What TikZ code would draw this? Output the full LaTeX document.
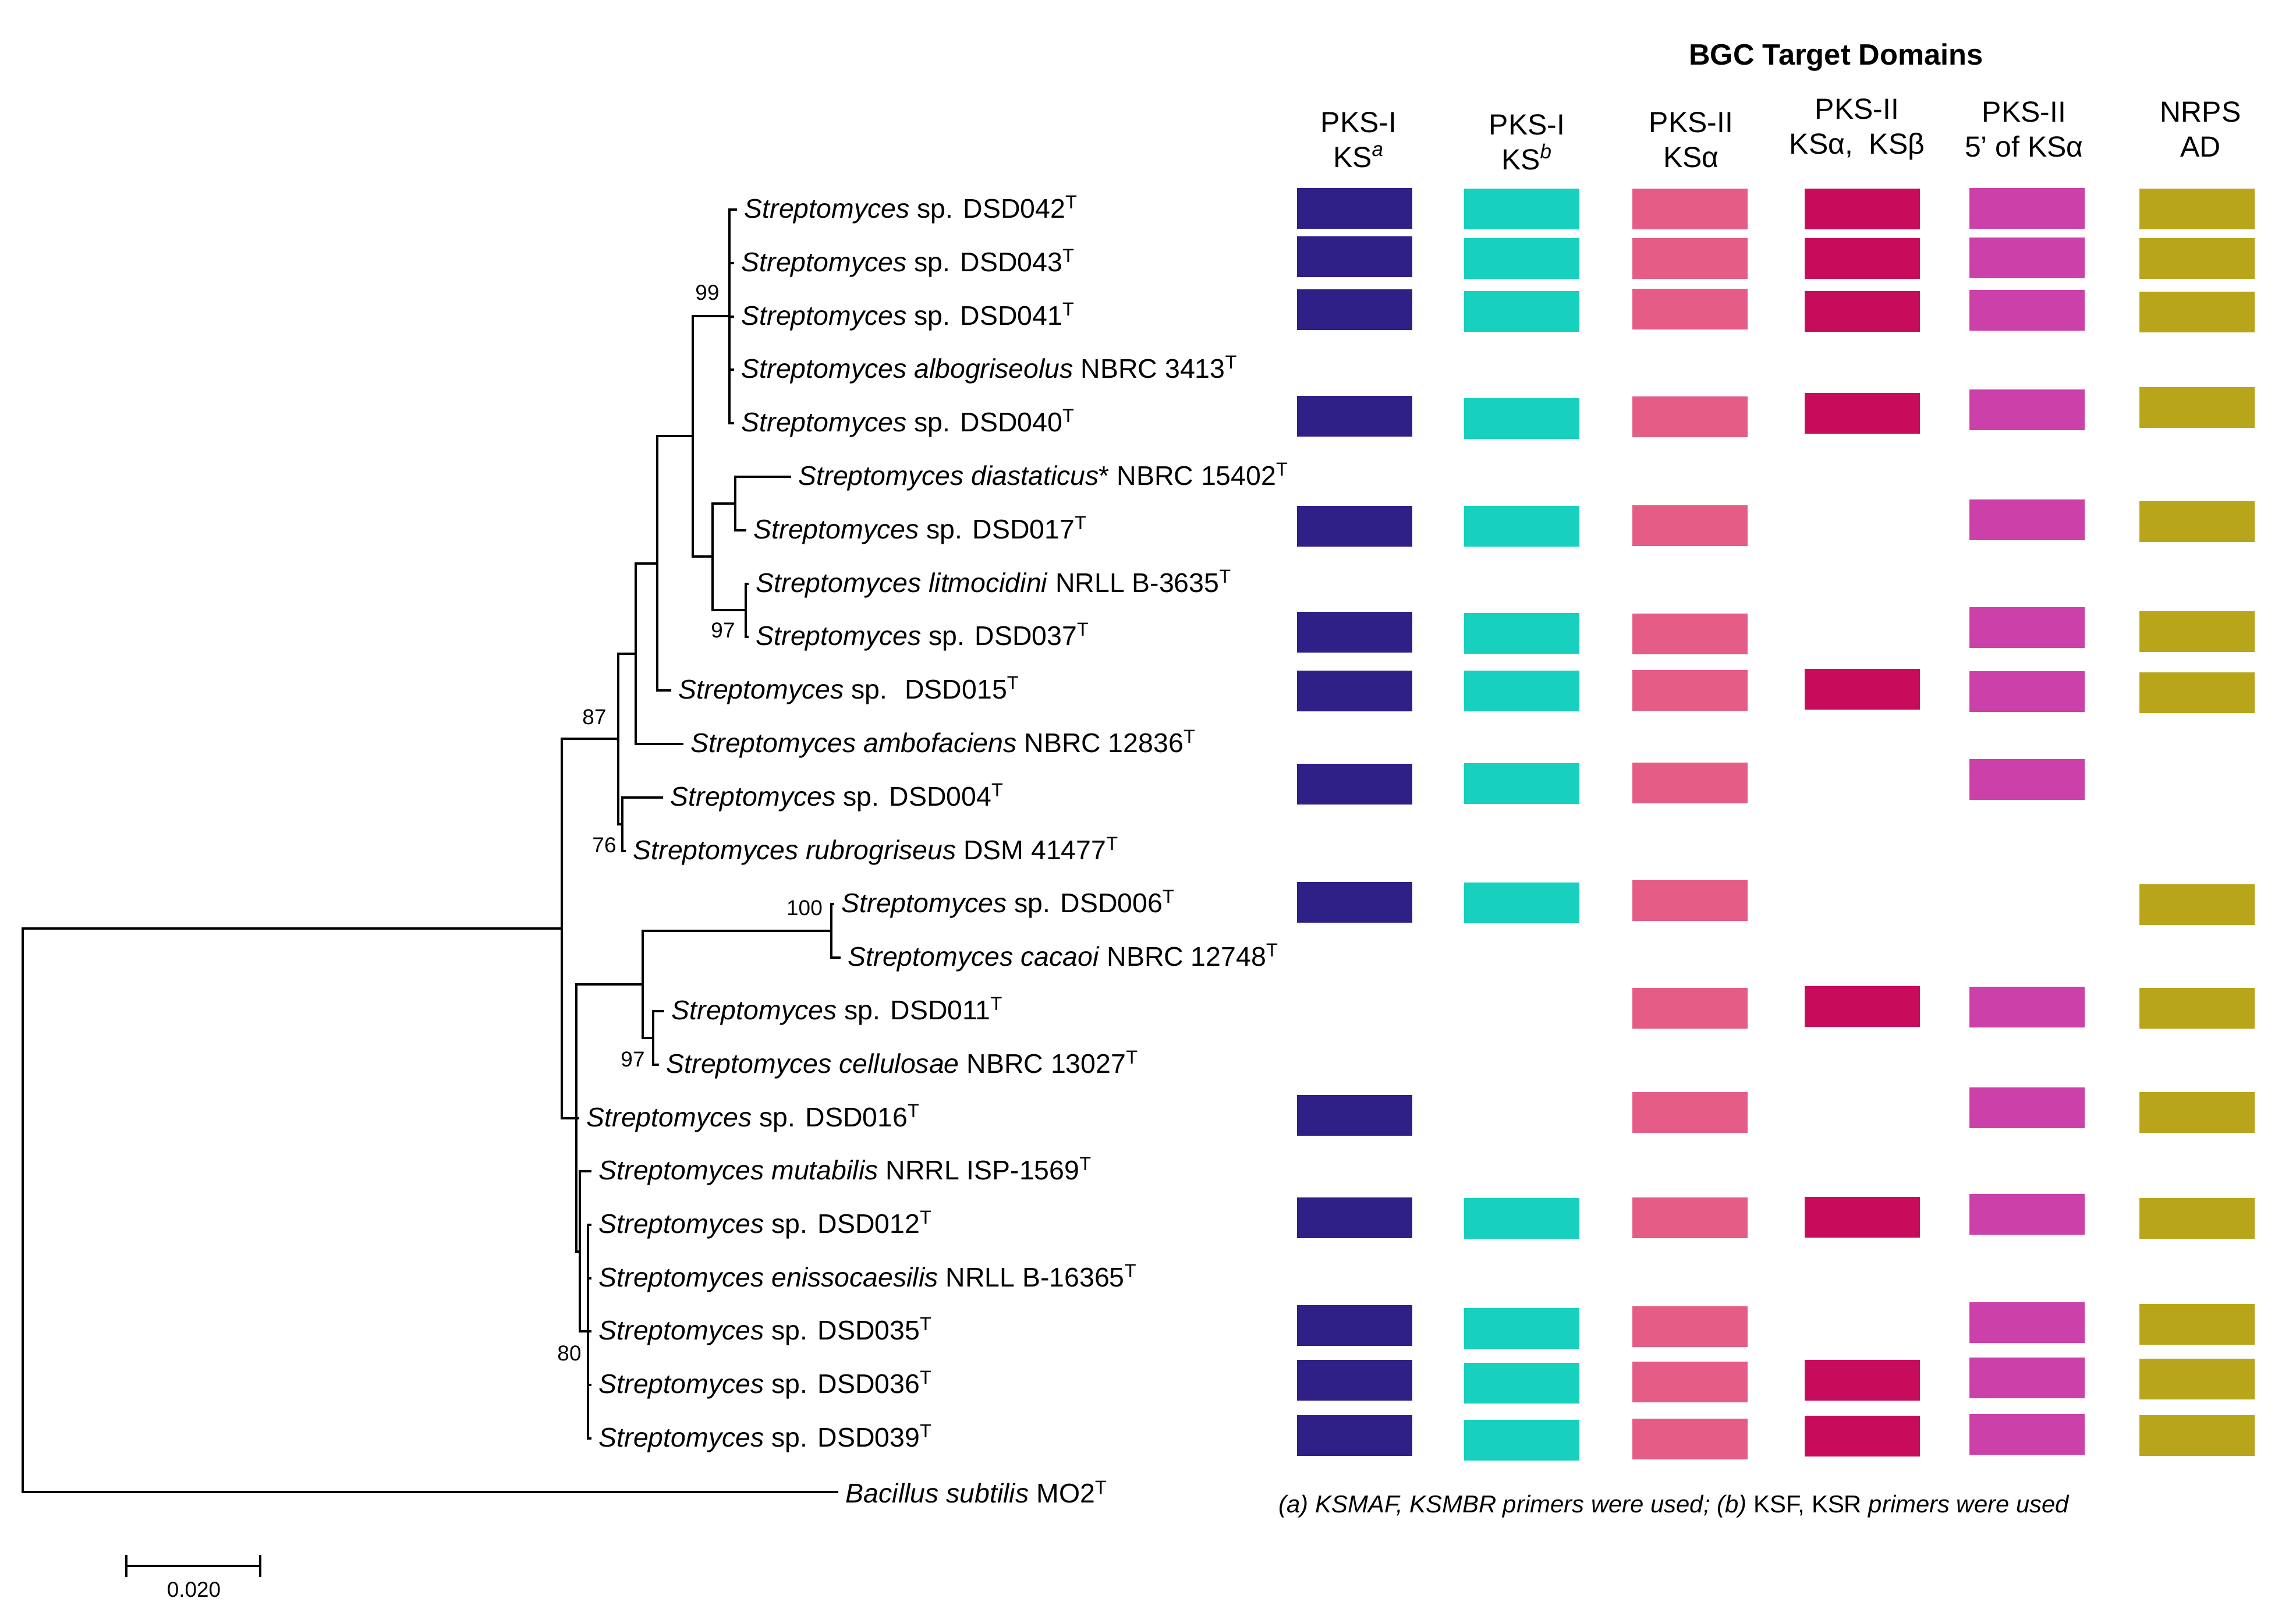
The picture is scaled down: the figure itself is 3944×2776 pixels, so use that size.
\documentclass[tikz,border=0pt]{standalone}
\usepackage{fontspec}
\setmainfont{Liberation Sans}
\usetikzlibrary{arrows.meta}
\definecolor{ksaBlue}{RGB}{46,32,135}
\definecolor{ksbTeal}{RGB}{23,208,190}
\definecolor{ksAlphaPink}{RGB}{229,92,134}
\definecolor{ksBetaRed}{RGB}{200,12,92}
\definecolor{fiveMagenta}{RGB}{204,64,170}
\definecolor{nrpsOlive}{RGB}{185,165,26}
\newcommand{\strep}{\textit{Streptomyces}}
\newcommand{\tstrain}{\textsuperscript{T}}

\begin{document}
\begin{tikzpicture}
      [x=0.01cm, y=-0.01cm,
       branch/.style={line width=1pt, line cap=rect},
       taxon/.style={anchor=west, inner xsep=4pt, inner ysep=0pt, font=\fontsize{13.2}{15}\selectfont},
       boot/.style={inner sep=0pt, font=\fontsize{10.5}{12}\selectfont},
       head/.style={align=center, font=\fontsize{14.2}{17}\selectfont},
       cellbox/.style={minimum width=1.98cm, minimum height=0.7cm, inner sep=0pt}]
      \useasboundingbox (0,0) rectangle (3944,2776);

      % taxa
      \node [taxon] (t42) at (1264,360) {\strep{} sp. DSD042\tstrain};
      \node [taxon] (t43) at (1259,452) {\strep{} sp. DSD043\tstrain};
      \node [taxon] (t41) at (1259,544) {\strep{} sp. DSD041\tstrain};
      \node [taxon] (talb) at (1259,635) {\textit{Streptomyces albogriseolus} NBRC 3413\tstrain};
      \node [taxon] (t40) at (1259,727) {\strep{} sp. DSD040\tstrain};
      \node [taxon] (tdia) at (1357,819) {\textit{Streptomyces diastaticus}* NBRC 15402\tstrain};
      \node [taxon] (t17) at (1280,911) {\strep{} sp. DSD017\tstrain};
      \node [taxon] (tlit) at (1284,1003) {\textit{Streptomyces litmocidini} NRLL B-3635\tstrain};
      \node [taxon] (t37) at (1284,1094) {\strep{} sp. DSD037\tstrain};
      \node [taxon] (t15) at (1151,1186) {\strep{} sp.~ DSD015\tstrain};
      \node [taxon] (tamb) at (1172,1278) {\textit{Streptomyces ambofaciens} NBRC 12836\tstrain};
      \node [taxon] (t04) at (1137,1370) {\strep{} sp. DSD004\tstrain};
      \node [taxon] (trub) at (1073,1462) {\textit{Streptomyces rubrogriseus} DSM 41477\tstrain};
      \node [taxon] (t06) at (1431,1553) {\strep{} sp. DSD006\tstrain};
      \node [taxon] (tcac) at (1442,1645) {\textit{Streptomyces cacaoi} NBRC 12748\tstrain};
      \node [taxon] (t11) at (1139,1737) {\strep{} sp. DSD011\tstrain};
      \node [taxon] (tcel) at (1130,1829) {\textit{Streptomyces cellulosae} NBRC 13027\tstrain};
      \node [taxon] (t16) at (993,1921) {\strep{} sp. DSD016\tstrain};
      \node [taxon] (tmut) at (1014,2012) {\textit{Streptomyces mutabilis} NRRL ISP-1569\tstrain};
      \node [taxon] (t12) at (1014,2104) {\strep{} sp. DSD012\tstrain};
      \node [taxon] (tenis) at (1014,2196) {\textit{Streptomyces enissocaesilis} NRLL B-16365\tstrain};
      \node [taxon] (t35) at (1014,2287) {\strep{} sp. DSD035\tstrain};
      \node [taxon] (t36) at (1014,2379) {\strep{} sp. DSD036\tstrain};
      \node [taxon] (t39) at (1014,2471) {\strep{} sp. DSD039\tstrain};
      \node [taxon] (tbac) at (1438,2563) {\textit{Bacillus subtilis} MO2\tstrain};

      % inner nodes of the tree
      \coordinate (n99) at (1253,543);
      \coordinate (nA) at (1190,749);
      \coordinate (nB) at (1224,956);
      \coordinate (nC) at (1263,865);
      \coordinate (nD) at (1281,1048);
      \coordinate (nE) at (1129,968);
      \coordinate (nF) at (1092,1123);
      \coordinate (nG) at (1069,1416);
      \coordinate (nH) at (1062,1269);
      \coordinate (nI) at (1428,1599);
      \coordinate (nJ) at (1122,1783);
      \coordinate (nK) at (1104,1691);
      \coordinate (n80) at (1010,2287);
      \coordinate (nL) at (996,2150);
      \coordinate (nM) at (990,1921);
      \coordinate (nN) at (965,1595);
      \coordinate (root) at (39,2079);

      \foreach \t in {t42,t43,t41,talb,t40}
        \draw [branch] (n99) |- (\t.west);
      \foreach \t in {t12,tenis,t35,t36,t39}
        \draw [branch] (n80) |- (\t.west);
      \draw [branch] (nA) |- (n99) (nA) |- (nB);
      \draw [branch] (nB) |- (nC) (nB) |- (nD);
      \draw [branch] (nC) |- (tdia.west) (nC) |- (t17.west);
      \draw [branch] (nD) |- (tlit.west) (nD) |- (t37.west);
      \draw [branch] (nE) |- (nA) (nE) |- (t15.west);
      \draw [branch] (nF) |- (nE) (nF) |- (tamb.west);
      \draw [branch] (nG) |- (t04.west) (nG) |- (trub.west);
      \draw [branch] (nH) |- (nF) (nH) |- (nG);
      \draw [branch] (nI) |- (t06.west) (nI) |- (tcac.west);
      \draw [branch] (nJ) |- (t11.west) (nJ) |- (tcel.west);
      \draw [branch] (nK) |- (nI) (nK) |- (nJ);
      \draw [branch] (nL) |- (tmut.west) (nL) |- (n80);
      \draw [branch] (nM) |- (nK) (nM) |- (t16.west) (nM) |- (nL);
      \draw [branch] (nN) |- (nH) (nN) |- (nM);
      \draw [branch] (root) |- (nN) (root) |- (tbac.west);

      % bootstrap values
      \node [boot] (b99) at (1215,503) {99};
      \node [boot] (b97a) at (1242,1083) {97};
      \node [boot] (b87) at (1021,1232) {87};
      \node [boot] (b76) at (1038,1452) {76};
      \node [boot] (b100) at (1382,1560) {100};
      \node [boot] (b97b) at (1087,1820) {97};
      \node [boot] (b80) at (978,2325) {80};

      % scale bar
      \coordinate (sbL) at (215,2690);
      \coordinate (sbR) at (449,2690);
      \draw [branch, line cap=butt, {Bar[width=10.8pt]}-{Bar[width=10.8pt]}] (sbL) -- (sbR);
      \node [boot] (sblbl) at (333,2731) {0.020};

      % domain table
      \node [font=\fontsize{14.4}{17}\selectfont\bfseries] (title) at (3154,99) {BGC Target Domains};
      \node [head] (h1) at (2334,240) {PKS-I\\KS\textsuperscript{\textit{a}}};
      \node [head] (h2) at (2623,244) {PKS-I\\KS\textsuperscript{\textit{b}}};
      \node [head] (h3) at (2905,240) {PKS-II\\KSα};
      \node [head] (h4) at (3190,222) {PKS-II\\KSα,\ \ KSβ};
      \node [head] (h5) at (3477,222) {PKS-II\\5’ of KSα};
      \node [head] (h6) at (3780,222) {NRPS\\AD};

      \foreach \y [count=\i] in {358,441,532,715,904,1086,1187,1347,1550,1916,2092,2277,2371,2466}
        \node [cellbox, fill=ksaBlue] (ksa-\i) at (2327,\y) {};
      \foreach \y [count=\i] in {359,444,535,719,904,1088,1187,1346,1551,2093,2282,2376,2474}
        \node [cellbox, fill=ksbTeal] (ksb-\i) at (2614,\y) {};
      \foreach \y [count=\i] in {359,444,531,716,903,1089,1186,1345,1547,1732,1911,2092,2279,2374,2472}
        \node [cellbox, fill=ksAlphaPink] (ksal-\i) at (2903,\y) {};
      \foreach \y [count=\i] in {359,444,535,710,1184,1729,2091,2371,2467}
        \node [cellbox, fill=ksBetaRed] (ksab-\i) at (3199,\y) {};
      \foreach \y [count=\i] in {358,443,533,704,893,1078,1188,1339,1730,1903,2086,2272,2367,2464}
        \node [cellbox, fill=fiveMagenta] (five-\i) at (3482,\y) {};
      \foreach \y [count=\i] in {359,444,536,700,896,1085,1190,1554,1732,1911,2093,2275,2369,2466}
        \node [cellbox, fill=nrpsOlive] (nrps-\i) at (3774,\y) {};

      \node [anchor=west, inner sep=0pt, font=\fontsize{11.9}{14}\selectfont] (note) at (2196,2588)
        {\textit{(a) KSMAF, KSMBR primers were used; (b)} KSF, KSR \textit{primers were used}};
    \end{tikzpicture}
\end{document}
